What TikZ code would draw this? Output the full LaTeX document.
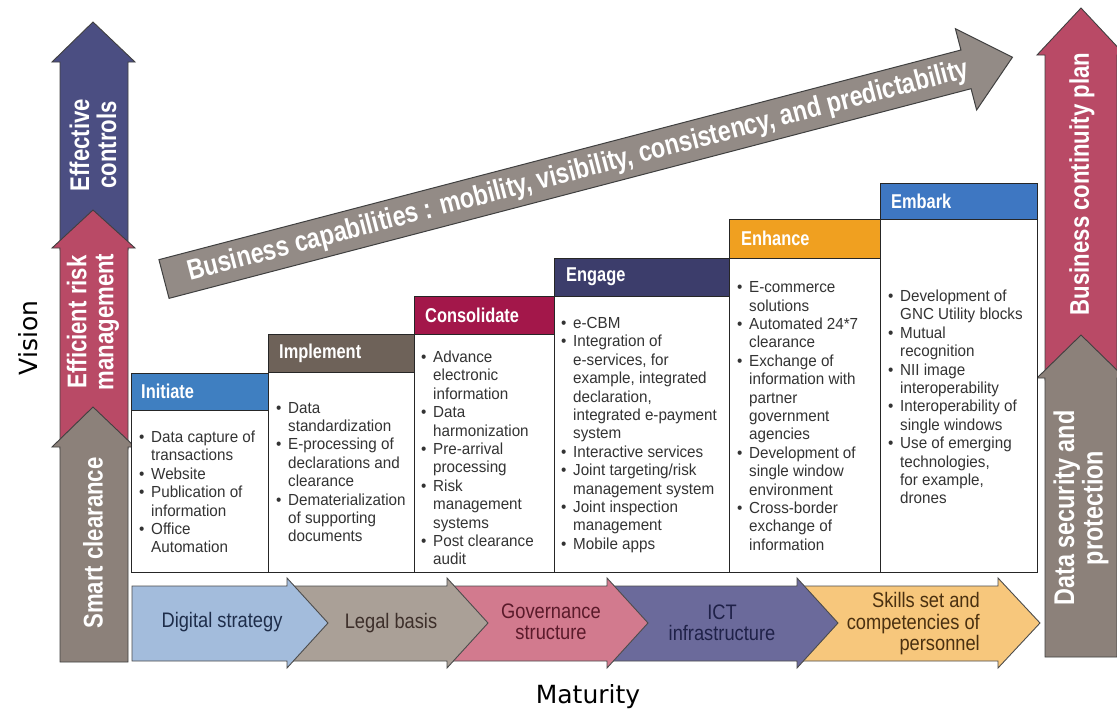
\documentclass[tikz,border=0pt]{standalone}
\usepackage{fontspec}
\setmainfont{Liberation Sans}
\newfontfamily\listfont{Liberation Sans}[FakeStretch=0.95]
\newfontfamily\chevfont{Liberation Sans}[FakeStretch=0.87]
\newfontfamily\hdrfont{Liberation Sans}[FakeStretch=0.82]
\newfontfamily\axisfont{DejaVu Sans}
\newcommand{\bul}{\makebox[12pt][l]{\textbullet}}
\newcommand{\ind}{\hspace*{12pt}}
\definecolor{arrblue}{HTML}{4B4E82}
\definecolor{arrred}{HTML}{B94A66}
\definecolor{arrgray}{HTML}{8C817A}
\definecolor{toparr}{HTML}{938B86}
\definecolor{hInit}{HTML}{3F7FC1}
\definecolor{hImpl}{HTML}{6E6259}
\definecolor{hCons}{HTML}{A3174A}
\definecolor{hEng}{HTML}{3C3D6B}
\definecolor{hEnh}{HTML}{F0A020}
\definecolor{hEmb}{HTML}{3E77C2}
\definecolor{txtgray}{HTML}{333333}
\definecolor{cvA}{HTML}{A3BCDC}
\definecolor{cvB}{HTML}{AAA097}
\definecolor{cvC}{HTML}{D27A8E}
\definecolor{cvD}{HTML}{6B6A9B}
\definecolor{cvE}{HTML}{F7C77C}
\definecolor{ctA}{HTML}{1E2D4A}
\definecolor{ctB}{HTML}{3D2F2A}
\definecolor{ctC}{HTML}{5A1A2A}
\definecolor{ctD}{HTML}{1F2148}
\definecolor{ctE}{HTML}{4A3010}
\tikzset{
 sidearrow/.style={draw=black!75, line width=0.9pt},
 bigarrow/.style={draw=black!75, fill=toparr, line width=1pt},
 colbox/.style={draw=black!85, fill=white, line width=1pt},
 hdr/.style={draw=black!85, line width=1pt},
 hdrtext/.style={text=white, font=\hdrfont\bfseries\fontsize{20}{22}\selectfont, anchor=west, inner sep=0pt},
 listnode/.style={font=\listfont\fontsize{16}{18.4}\selectfont, text=txtgray, align=left, anchor=west, inner sep=0pt},
 chev/.style={draw=black!70, line width=0.9pt},
 chevtext/.style={font=\chevfont\fontsize{21}{21.5}\selectfont, align=center, inner sep=0pt},
 sidetext/.style={text=white, font=\hdrfont\bfseries\fontsize{27}{27}\selectfont, align=center, rotate=90, inner sep=0pt},
 bigtext/.style={text=white, font=\hdrfont\bfseries\fontsize{28.5}{28.5}\selectfont, inner sep=0pt},
 axistext/.style={font=\axisfont\fontsize{25}{30}\selectfont, inner sep=0pt},
}
\begin{document}
\begin{tikzpicture}[x=1pt,y=-1pt]
\useasboundingbox (0,0) rectangle (1117,715);
\fill[white] (0,0) rectangle (1117,715);

% left arrows
\draw[sidearrow, fill=arrblue] (60,250) -- (60,62) -- (52,62) -- (93,22) -- (135,62) -- (128,62) -- (128,250) -- cycle;
\draw[sidearrow, fill=arrred] (60,449) -- (60,248) -- (52,248) -- (93,210) -- (135,248) -- (128,248) -- (128,449) -- cycle;
\draw[sidearrow, fill=arrgray] (60,662) -- (60,447) -- (52,447) -- (93,407) -- (135,447) -- (128,447) -- (128,662) -- cycle;
\node[sidetext] (ec) at (93,145) {Effective\\controls};
\node[sidetext] (erm) at (93,322) {Efficient risk\\management};
\node[sidetext] (sc) at (93,543) {Smart clearance};

% right arrows
\draw[sidearrow, fill=arrred] (1045,380) -- (1045,55) -- (1037,55) -- (1081,8) -- (1125,55) -- (1117,55) -- (1117,380) -- cycle;
\draw[sidearrow, fill=arrgray] (1045,657) -- (1045,378) -- (1037,378) -- (1081,335) -- (1125,378) -- (1117,378) -- (1117,657) -- cycle;
\node[sidetext] (bcp) at (1082,184) {Business continuity plan};
\node[sidetext, font=\hdrfont\bfseries\fontsize{28.5}{28.5}\selectfont] (dsp) at (1081,508) {Data security and\\protection};

% axis labels
\node[axistext, rotate=90] (vis) at (28,338) {Vision};
\node[axistext] (mat) at (588,697) {Maturity};

% top arrow
\begin{scope}[shift={(164,279)}, rotate=14.65]
 \draw[bigarrow] (0,-20) -- (829,-20) -- (829,-42) -- (877,0) -- (829,42) -- (829,20) -- (0,20) -- cycle;
 \node[bigtext, rotate=14.65] (bcap) at (428,1) {Business capabilities : mobility, visibility, consistency, and predictability};
\end{scope}

% step columns
\draw[colbox] (131,373) rectangle (268,572);
\draw[colbox] (268,334) rectangle (414,572);
\draw[colbox] (414,296) rectangle (554,572);
\draw[colbox] (554,258) rectangle (729,572);
\draw[colbox] (729,219) rectangle (880,572);
\draw[colbox] (880,183) rectangle (1037,572);
% headers
\draw[hdr, fill=hInit] (131,373) rectangle (268,410);
\draw[hdr, fill=hImpl] (268,334) rectangle (414,372);
\draw[hdr, fill=hCons] (414,296) rectangle (554,334);
\draw[hdr, fill=hEng] (554,258) rectangle (729,296);
\draw[hdr, fill=hEnh] (729,219) rectangle (880,258);
\draw[hdr, fill=hEmb] (880,183) rectangle (1037,219);
\node[hdrtext] (hi) at (141,391) {Initiate};
\node[hdrtext] (him) at (279,353) {Implement};
\node[hdrtext] (hc) at (425,315) {Consolidate};
\node[hdrtext] (he) at (566,277) {Engage};
\node[hdrtext] (hen) at (741,238) {Enhance};
\node[hdrtext] (hem) at (891,201) {Embark};

% lists
\node[listnode] (l1) at (139,492) {\bul Data capture of\\\ind transactions\\\bul Website\\\bul Publication of\\\ind information\\\bul Office\\\ind Automation};
\node[listnode] (l2) at (276,472) {\bul Data\\\ind standardization\\\bul E-processing of\\\ind declarations and\\\ind clearance\\\bul Dematerialization\\\ind of supporting\\\ind documents};
\node[listnode] (l3) at (421,458) {\bul Advance\\\ind electronic\\\ind information\\\bul Data\\\ind harmonization\\\bul Pre-arrival\\\ind processing\\\bul Risk\\\ind management\\\ind systems\\\bul Post clearance\\\ind audit};
\node[listnode] (l4) at (561,435) {\bul e-CBM\\\bul Integration of\\\ind e-services, for\\\ind example, integrated\\\ind declaration,\\\ind integrated e-payment\\\ind system\\\bul Interactive services\\\bul Joint targeting/risk\\\ind management system\\\bul Joint inspection\\\ind management\\\bul Mobile apps};
\node[listnode] (l5) at (737,416) {\bul E-commerce\\\ind solutions\\\bul Automated 24*7\\\ind clearance\\\bul Exchange of\\\ind information with\\\ind partner\\\ind government\\\ind agencies\\\bul Development of\\\ind single window\\\ind environment\\\bul Cross-border\\\ind exchange of\\\ind information};
\node[listnode] (l6) at (888,397) {\bul Development of\\\ind GNC Utility blocks\\\bul Mutual\\\ind recognition\\\bul NII image\\\ind interoperability\\\bul Interoperability of\\\ind single windows\\\bul Use of emerging\\\ind technologies,\\\ind for example,\\\ind drones};

% chevrons (right to left so earlier ones overlap)
\draw[chev, fill=cvE] (797,586) -- (998,586) -- (998,578) -- (1040,623) -- (998,668) -- (998,661) -- (797,661) -- cycle;
\draw[chev, fill=cvD] (607,586) -- (797,586) -- (797,578) -- (838,623) -- (797,668) -- (797,661) -- (607,661) -- cycle;
\draw[chev, fill=cvC] (447,586) -- (607,586) -- (607,578) -- (648,623) -- (607,668) -- (607,661) -- (447,661) -- cycle;
\draw[chev, fill=cvB] (287,586) -- (447,586) -- (447,578) -- (488,623) -- (447,668) -- (447,661) -- (287,661) -- cycle;
\draw[chev, fill=cvA] (132,586) -- (287,586) -- (287,578) -- (328,623) -- (287,668) -- (287,661) -- (132,661) -- cycle;
\node[chevtext, text=ctA] (c1) at (222,622) {Digital strategy};
\node[chevtext, text=ctB] (c2) at (391,623) {Legal basis};
\node[chevtext, text=ctC] (c3) at (551,622) {Governance\\structure};
\node[chevtext, text=ctD] (c4) at (722,623) {ICT\\infrastructure};
\node[chevtext, text=ctE, align=right, anchor=east] (c5) at (980,624) {Skills set and\\competencies of\\personnel};
\end{tikzpicture}
\end{document}
